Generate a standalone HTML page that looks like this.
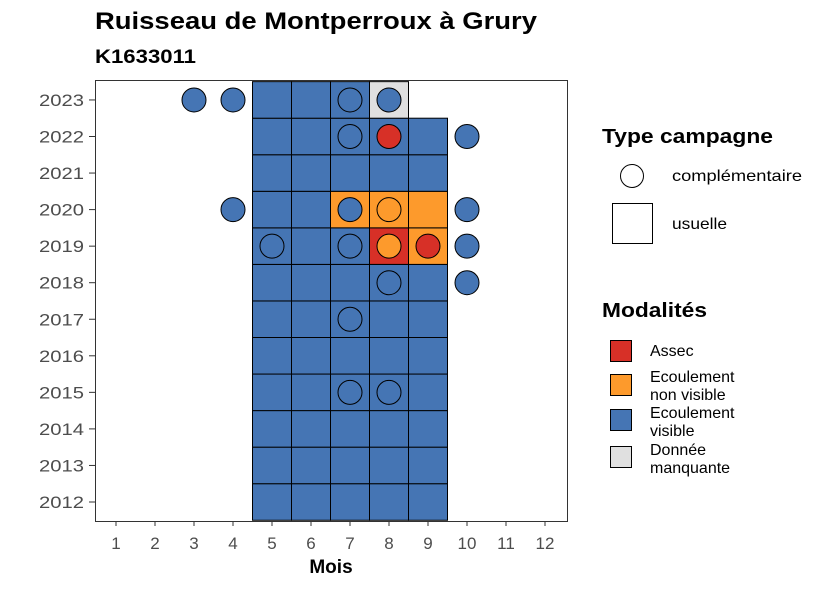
<!DOCTYPE html>
<html><head><meta charset="utf-8"><style>
body{margin:0;background:#fff;font-family:"Liberation Sans",Arial,sans-serif}
</style></head><body>
<svg id="chart" width="826" height="590" xmlns="http://www.w3.org/2000/svg" font-family="Liberation Sans, Arial, sans-serif">
<text x="95" y="29" font-size="24" font-weight="bold" textLength="442" lengthAdjust="spacingAndGlyphs">Ruisseau de Montperroux à Grury</text>
<text x="95" y="63" font-size="19" font-weight="bold" textLength="101" lengthAdjust="spacingAndGlyphs">K1633011</text>
<g id="tiles"></g><g id="points"></g>
<rect x="95.5" y="80.5" width="472" height="441" fill="none" stroke="#333" stroke-width="1"/>
<g id="axes"></g>
<text x="331" y="573" font-size="19" font-weight="bold" text-anchor="middle">Mois</text>
<g>
<text x="602" y="143" font-size="20" font-weight="bold" textLength="171" lengthAdjust="spacingAndGlyphs">Type campagne</text>
<circle cx="632" cy="176" r="11.5" fill="#fff" stroke="#000" stroke-width="1"/>
<text x="672" y="181" font-size="16" textLength="130" lengthAdjust="spacingAndGlyphs">complémentaire</text>
<rect x="612.5" y="203.5" width="40" height="40" fill="#fff" stroke="#000"/>
<text x="672" y="229" font-size="16" textLength="55" lengthAdjust="spacingAndGlyphs">usuelle</text>
</g>
<g font-size="16">
<text x="602" y="317" font-size="20" font-weight="bold" textLength="105" lengthAdjust="spacingAndGlyphs">Modalités</text>
<rect x="610.5" y="340.5" width="21" height="21" fill="#D73027" stroke="#000"/>
<text x="650" y="356">Assec</text>
<rect x="610.5" y="374.5" width="21" height="21" fill="#FD9A2C" stroke="#000"/>
<text x="650" y="382">Ecoulement</text><text x="650" y="400">non visible</text>
<rect x="610.5" y="409.5" width="21" height="21" fill="#4575B4" stroke="#000"/>
<text x="650" y="418">Ecoulement</text><text x="650" y="436">visible</text>
<rect x="610.5" y="446.5" width="21" height="21" fill="#E0E0E0" stroke="#000"/>
<text x="650" y="455">Donnée</text><text x="650" y="473">manquante</text>
</g>
</svg>
<script>
const months=[1,2,3,4,5,6,7,8,9,10,11,12];
const years=[2012,2013,2014,2015,2016,2017,2018,2019,2020,2021,2022,2023];
const colors={A:"#D73027",N:"#FD9A2C",V:"#4575B4",M:"#E0E0E0"};
const tileYears=[2012,2013,2014,2015,2016,2017,2018,2019,2020,2021,2022,2023];
const tileMonths=[5,6,7,8,9];
const tileOverrides=[[2020,7,"N"],[2020,8,"N"],[2020,9,"N"],[2019,8,"A"],[2019,9,"N"],[2023,8,"M"]];
const tileMissing=[[2023,9]];
const pointData=[[2023,3,"V"],[2023,4,"V"],[2023,7,"V"],[2023,8,"V"],[2022,7,"V"],[2022,8,"A"],[2022,10,"V"],
[2020,4,"V"],[2020,7,"V"],[2020,8,"N"],[2020,10,"V"],[2019,5,"V"],[2019,7,"V"],[2019,8,"N"],[2019,9,"A"],[2019,10,"V"],
[2018,8,"V"],[2018,10,"V"],[2017,7,"V"],[2015,7,"V"],[2015,8,"V"]];
const xs=m=>116+(m-1)*39, ys=y=>502-(y-2012)*36.55;
const NS="http://www.w3.org/2000/svg";
function mk(t,a,p){const e=document.createElementNS(NS,t);for(const k in a)e.setAttribute(k,a[k]);p.appendChild(e);return e;}
const tg=document.getElementById('tiles'),pg=document.getElementById('points'),ag=document.getElementById('axes');
tileYears.forEach(y=>tileMonths.forEach(m=>{
 if(tileMissing.some(d=>d[0]===y&&d[1]===m))return;
 const o=tileOverrides.find(d=>d[0]===y&&d[1]===m);const c=o?colors[o[2]]:colors.V;
 const r=mk('rect',{x:xs(m)-19.5,y:ys(y)-18.3,width:39,height:36.55,fill:c,stroke:'#000','stroke-width':1},tg);
 
 
}));
pointData.forEach(d=>{
 const c=mk('circle',{cx:xs(d[1]),cy:ys(d[0]),r:12,fill:colors[d[2]],stroke:'#000','stroke-width':1},pg);
 
 
});
months.forEach(m=>{
 mk('line',{x1:xs(m),x2:xs(m),y1:521,y2:526,stroke:'#333'},ag);
 const t=mk('text',{x:xs(m),y:549,'font-size':17,fill:'#4d4d4d','text-anchor':'middle'},ag);t.textContent=m;
 
 
});
years.forEach(y=>{
 mk('line',{x1:89,x2:95,y1:ys(y),y2:ys(y),stroke:'#333'},ag);
 const t=mk('text',{x:84,y:ys(y)+6,'font-size':17,fill:'#4d4d4d','text-anchor':'end',textLength:45,lengthAdjust:'spacingAndGlyphs'},ag);t.textContent=y;
 
 
});
</script>
</body></html>
